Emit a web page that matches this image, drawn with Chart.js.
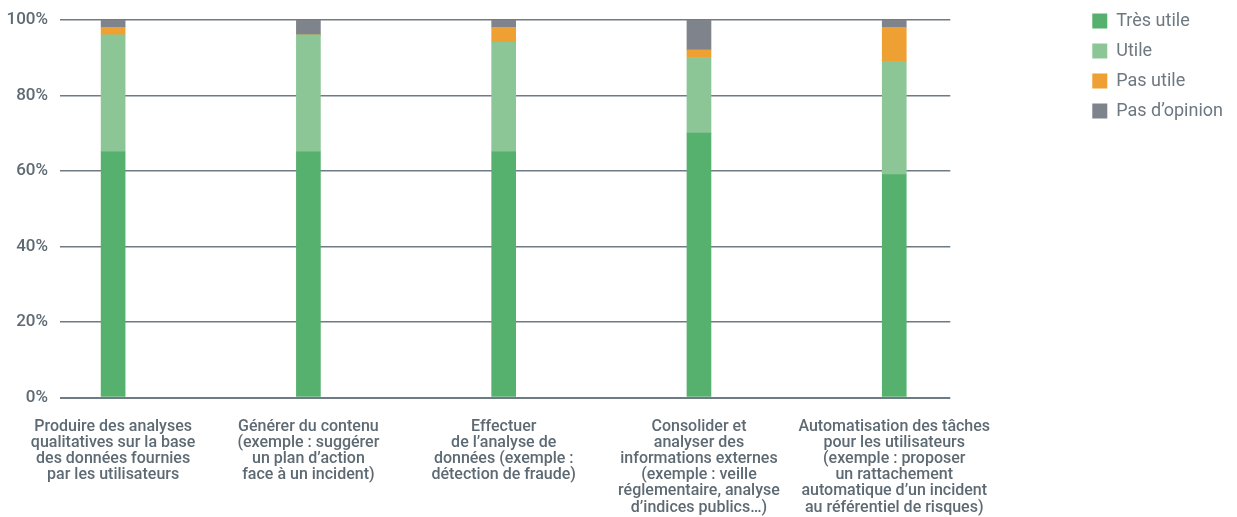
<!DOCTYPE html>
<html>
<head>
<meta charset="utf-8">
<script src="https://cdn.jsdelivr.net/npm/chart.js@4.4.1/dist/chart.umd.min.js"></script>
<style>
  html, body { margin: 0; padding: 0; background: #fff; }
  #wrap { width: 1237px; height: 517px; }
</style>
</head>
<body>
<div id="wrap"><canvas id="chart"></canvas></div>
<script>
// ================= DATA =================
const categories = [
  ["Produire des analyses", "qualitatives sur la base", "des données fournies", "par les utilisateurs"],
  ["Générer du contenu", "(exemple : suggérer", "un plan d’action", "face à un incident)"],
  ["Effectuer", "de l’analyse de", "données (exemple :", "détection de fraude)"],
  ["Consolider et", "analyser des", "informations externes", "(exemple : veille", "réglementaire, analyse", "d’indices publics…)"],
  ["Automatisation des tâches", "pour les utilisateurs", "(exemple : proposer", "un rattachement", "automatique d’un incident", "au référentiel de risques)"]
];
const tresUtile   = [65, 65, 65, 70, 59];
const utile       = [31, 31, 29, 20, 30];
const pasUtile    = [2, 0, 4, 2, 9];
const pasOpinion  = [2, 4, 2, 8, 2];
const yTicks = [0, 20, 40, 60, 80, 100];

// ================= CHART =================
const toPoints = arr => arr.map((v, i) => ({ x: i, y: v }));
const textGray = "#5e6a73";

const series = [
  { label: "Très utile",    data: tresUtile,  color: "#56b06e" },
  { label: "Utile",         data: utile,      color: "#8cc596" },
  { label: "Pas utile",     data: pasUtile,   color: "#eea033" },
  { label: "Pas d’opinion", data: pasOpinion, color: "#7e838c" }
];

new Chart(document.getElementById("chart"), {
  type: "bar",
  data: {
    datasets: series.map(s => ({
      label: s.label,
      data: toPoints(s.data),
      backgroundColor: s.color,
      borderWidth: 0,
      barThickness: 24
    }))
  },
  options: {
    responsive: true,
    maintainAspectRatio: false,
    animation: false,
    layout: { padding: { top: 0, right: 4, bottom: 0, left: 0 } },
    plugins: {
      tooltip: { enabled: false },
      legend: {
        position: "right",
        align: "start",
        labels: {
          boxWidth: 15,
          boxHeight: 15,
          padding: 12,
          color: "#6d7881",
          font: { family: "Roboto", size: 18 }
        }
      }
    },
    scales: {
      x: {
        type: "linear",
        stacked: true,
        offset: false,
        min: -0.272,
        max: 4.287,
        grid: { display: false, drawTicks: false },
        border: { display: false },
        afterBuildTicks: axis => { axis.ticks = categories.map((c, i) => ({ value: i })); },
        afterFit: axis => { axis.height = 119.5; },
        ticks: {
          autoSkip: false,
          maxRotation: 0,
          minRotation: 0,
          padding: 21,
          color: textGray,
          font: { family: "Roboto", size: 16, weight: "500", lineHeight: "16.2px" },
          callback: v => categories[v]
        }
      },
      y: {
        stacked: true,
        min: 0,
        max: 100,
        afterBuildTicks: axis => { axis.ticks = yTicks.map(v => ({ value: v })); },
        afterFit: axis => { axis.width = 60; },
        grid: {
          color: "#6f7b84",
          lineWidth: ctx => ctx.tick.value === 0 ? 2 : 1.5,
          drawTicks: false
        },
        border: { display: false },
        ticks: {
          padding: 12,
          color: textGray,
          font: { family: "Roboto", size: 17, weight: "500", lineHeight: "15.4px" },
          callback: v => v + "%"
        }
      },
      spacer: {
        type: "linear",
        position: "right",
        display: true,
        grid: { display: false },
        border: { display: false },
        ticks: { display: false },
        afterFit: axis => { axis.width = 130; }
      }
    }
  }
});
</script>
</body>
</html>
